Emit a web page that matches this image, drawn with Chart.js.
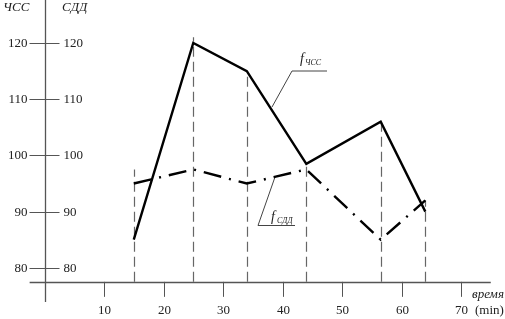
<!DOCTYPE html>
<html>
<head>
<meta charset="utf-8">
<script src="https://cdn.jsdelivr.net/npm/chart.js@4"></script>
<style>
  html, body { margin: 0; padding: 0; background: #fff; }
  #wrap { width: 505px; height: 319px; }
</style>
</head>
<body>
<div id="wrap"><canvas id="myChart"></canvas></div>
<script>
// данные
const time = [15, 25, 34, 44, 56.5, 64];
const hr = [85, 120, 115, 98.5, 106, 90];      // ЧСС
const sdd = [95, 97.5, 95, 97.5, 85, 92];       // СДД
const dropTop = [97.5, 121, 115, 98.5, 106, 92];
const xTicks = [10, 20, 30, 40, 50, 60, 70];
const yTicks = [80, 90, 100, 110, 120];

const serif = '"Liberation Serif", "DejaVu Serif", serif';

const axesPlugin = {
  id: 'axes',
  beforeDatasetsDraw(chart) {
    const c = chart.ctx;
    const xs = chart.scales.x, ys = chart.scales.y;
    const x0 = xs.getPixelForValue(0);
    const yb = ys.getPixelForValue(77.5);
    c.save();
    // пунктирные вертикали
    c.strokeStyle = '#666';
    c.lineWidth = 1.2;
    c.setLineDash([10, 5]);
    time.forEach((t, i) => {
      const px = Math.round(xs.getPixelForValue(t)) + 0.5;
      c.beginPath();
      c.moveTo(px, yb);
      c.lineTo(px, ys.getPixelForValue(dropTop[i]));
      c.stroke();
    });
    c.setLineDash([]);
    // оси
    c.strokeStyle = '#555';
    c.lineWidth = 1.3;
    c.beginPath();
    c.moveTo(Math.round(x0) + 0.5, 0);
    c.lineTo(Math.round(x0) + 0.5, ys.getPixelForValue(73.9));
    c.moveTo(xs.getPixelForValue(-2.5), Math.round(yb) + 0.5);
    c.lineTo(xs.getPixelForValue(75), Math.round(yb) + 0.5);
    c.stroke();
    c.lineWidth = 1;
    c.fillStyle = '#222';
    c.font = '13px ' + serif;
    c.textBaseline = 'middle';
    yTicks.forEach(v => {
      const py = Math.round(ys.getPixelForValue(v)) + 0.5;
      c.beginPath();
      c.moveTo(x0 - 15, py);
      c.lineTo(x0 + 15, py);
      c.stroke();
      c.textAlign = 'right';
      c.fillText(String(v), x0 - 17, py);
      c.textAlign = 'left';
      c.fillText(String(v), x0 + 19, py);
    });
    c.textAlign = 'center';
    xTicks.forEach(v => {
      const px = Math.round(xs.getPixelForValue(v)) + 0.5;
      c.beginPath();
      c.moveTo(px, yb);
      c.lineTo(px, yb + 15);
      c.stroke();
      c.fillText(String(v), px, 311);
    });
    // подписи
    c.font = 'italic 13px ' + serif;
    c.textAlign = 'left';
    c.fillText('ЧСС', 3, 8);
    c.fillText('СДД', 62, 8);
    c.fillText('время', 472, 295);
    c.font = '13px ' + serif;
    c.fillText('(min)', 475, 311);
    // выноски
    c.strokeStyle = '#444';
    c.beginPath();
    c.moveTo(272, 107); c.lineTo(292, 71); c.lineTo(327, 71);
    c.moveTo(275, 177); c.lineTo(258, 225.5); c.lineTo(295, 225.5);
    c.stroke();
    c.font = 'italic 14px ' + serif;
    c.fillText('f', 300, 59);
    c.fillText('f', 271, 217);
    c.font = 'italic 8px ' + serif;
    c.fillText('ЧСС', 305, 63);
    c.fillText('СДД', 277, 221);
    c.restore();
  }
};

new Chart(document.getElementById('myChart'), {
  type: 'line',
  data: {
    datasets: [{
      label: 'ЧСС',
      data: time.map((t, i) => ({ x: t, y: hr[i] })),
      borderColor: '#000',
      borderWidth: 2.4,
      pointRadius: 0,
      tension: 0
    }, {
      label: 'СДД',
      data: time.map((t, i) => ({ x: t, y: sdd[i] })),
      borderColor: '#000',
      borderWidth: 2.4,
      borderDash: [18, 8, 2, 8],
      pointRadius: 0,
      tension: 0
    }]
  },
  options: {
    responsive: true,
    maintainAspectRatio: false,
    animation: false,
    layout: { padding: 0 },
    plugins: { legend: { display: false }, tooltip: { enabled: false } },
    scales: {
      x: { type: 'linear', display: false, min: -7.48, max: 77.39 },
      y: { type: 'linear', display: false, min: 70.89, max: 127.65 }
    }
  },
  plugins: [axesPlugin]
});
</script>
</body>
</html>
